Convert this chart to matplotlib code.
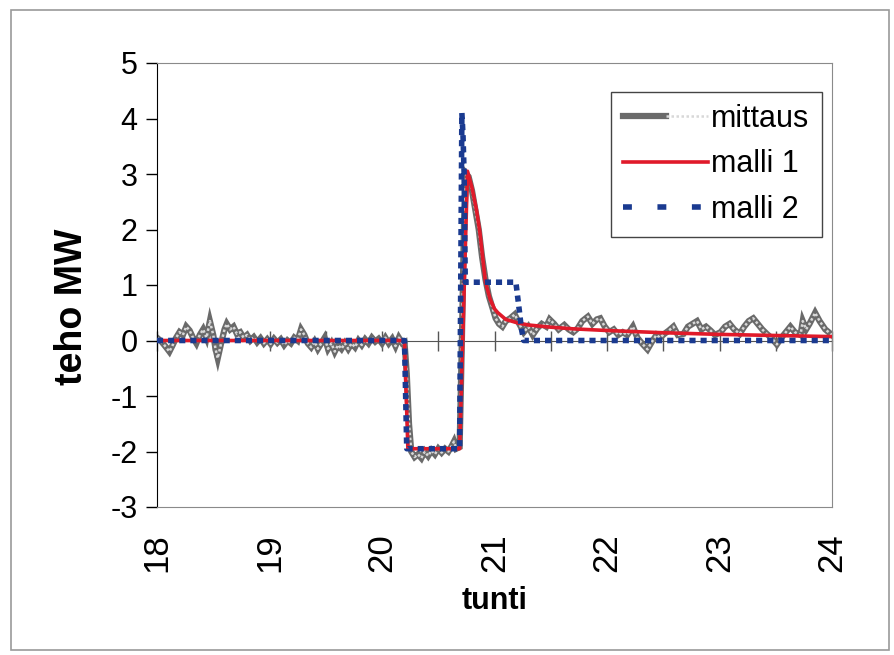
import matplotlib.pyplot as plt
from matplotlib.lines import Line2D
from matplotlib.patches import Rectangle
from matplotlib.legend_handler import HandlerTuple

plt.rcParams['font.family'] = ['Liberation Sans', 'DejaVu Sans']
plt.rcParams['axes.unicode_minus'] = False

# mitattu teho (luettu kuvasta)
t_mit = [18.00, 18.04, 18.08, 18.11, 18.14, 18.17, 18.20, 18.23, 18.26, 18.29,
         18.32, 18.35, 18.38, 18.41, 18.44, 18.47, 18.50, 18.52, 18.54, 18.57,
         18.60, 18.62, 18.65, 18.68, 18.71, 18.74, 18.77, 18.80, 18.83, 18.86,
         18.89, 18.92, 18.95, 18.98, 19.01, 19.04, 19.07, 19.10, 19.13, 19.16,
         19.19, 19.22, 19.25, 19.28, 19.31, 19.34, 19.37, 19.40, 19.43, 19.46,
         19.49, 19.52, 19.55, 19.58, 19.61, 19.64, 19.67, 19.70, 19.73, 19.76,
         19.79, 19.82, 19.85, 19.88, 19.91, 19.94, 19.97, 20.00, 20.03, 20.06,
         20.09, 20.12, 20.15, 20.18, 20.20,
         20.22, 20.24, 20.26, 20.29, 20.32, 20.35, 20.38, 20.41, 20.44, 20.47,
         20.50, 20.53, 20.56, 20.59, 20.62, 20.64, 20.66, 20.69,
         20.71, 20.73, 20.75, 20.77, 20.80, 20.83, 20.86, 20.89, 20.92, 20.95,
         20.98, 21.01, 21.04, 21.07, 21.10, 21.14, 21.18, 21.22, 21.26, 21.30,
         21.34, 21.38, 21.42, 21.46, 21.49, 21.53, 21.57, 21.62, 21.66, 21.70,
         21.74, 21.78, 21.83, 21.87, 21.91, 21.94, 21.98, 22.02, 22.06, 22.10,
         22.14, 22.18, 22.23, 22.27, 22.31, 22.36, 22.40, 22.44, 22.47, 22.51,
         22.55, 22.59, 22.63, 22.68, 22.72, 22.76, 22.80, 22.84, 22.88, 22.92,
         22.96, 23.01, 23.05, 23.09, 23.13, 23.18, 23.22, 23.26, 23.30, 23.34,
         23.38, 23.42, 23.46, 23.51, 23.55, 23.59, 23.63, 23.67, 23.72, 23.74,
         23.77, 23.80, 23.85, 23.89, 23.94, 23.97, 24.00]
p_mit = [0.05, -0.02, -0.12, -0.20, -0.08, 0.05, 0.15, 0.10, 0.25, 0.18,
         0.05, -0.05, 0.10, 0.20, 0.05, 0.35, 0.10, -0.15, -0.32, -0.05,
         0.20, 0.30, 0.20, 0.25, 0.12, 0.15, 0.05, 0.10, 0.00, 0.06,
         -0.03, 0.04, -0.05, 0.02, -0.06, 0.03, -0.04, 0.02, -0.08, 0.00,
         -0.05, 0.05, 0.00, 0.20, 0.10, -0.05, -0.12, -0.02, -0.15, -0.05,
         0.05, -0.15, -0.05, -0.20, -0.08, -0.15, -0.05, -0.15, -0.05, -0.12,
         0.00, -0.08, 0.02, -0.05, 0.05, -0.02, 0.03, -0.05, 0.05, -0.05,
         0.03, -0.10, 0.05, -0.05, -0.03,
         -0.60, -1.50, -2.00, -2.10, -2.05, -2.12, -2.00, -2.08, -1.98, -2.05,
         -1.95, -2.02, -1.95, -2.00, -1.90, -1.82, -1.95, -1.92,
         0.00, 2.20, 3.00, 2.95, 2.70, 2.35, 2.00, 1.50, 1.10, 0.80,
         0.60, 0.40, 0.30, 0.25, 0.35, 0.40, 0.47, 0.30, 0.15, 0.25,
         0.10, 0.22, 0.30, 0.25, 0.38, 0.30, 0.20, 0.28, 0.20, 0.15,
         0.22, 0.35, 0.43, 0.30, 0.38, 0.40, 0.25, 0.15, 0.20, 0.10,
         0.15, 0.10, 0.25, 0.05, -0.05, -0.16, -0.02, 0.10, 0.05, 0.12,
         0.18, 0.25, 0.10, 0.12, 0.25, 0.30, 0.35, 0.20, 0.25, 0.18,
         0.10, 0.15, 0.25, 0.30, 0.20, 0.12, 0.25, 0.35, 0.40, 0.30,
         0.20, 0.12, 0.05, -0.07, 0.05, 0.15, 0.25, 0.15, 0.10, 0.35,
         0.20, 0.30, 0.50, 0.35, 0.20, 0.15, 0.10]

# malli 1
t_m1 = [18.0, 20.20, 20.23, 20.69, 20.76, 20.80, 20.84, 20.87, 20.90, 20.92,
        20.96, 21.00, 21.03, 21.10, 21.20, 21.30, 21.50, 21.70, 22.00, 22.50,
        23.00, 23.50, 24.00]
p_m1 = [0.0, 0.0, -1.95, -1.95, 3.05, 2.75, 2.35, 1.95, 1.40, 1.05,
        0.75, 0.57, 0.50, 0.38, 0.32, 0.28, 0.24, 0.21, 0.18, 0.14,
        0.11, 0.09, 0.07]

# malli 2
t_m2 = [18.0, 20.20, 20.22, 20.69, 20.71, 20.72, 20.73, 20.74, 21.19, 21.22,
        21.24, 21.26, 24.00]
p_m2 = [0.0, 0.0, -1.95, -1.95, 4.10, 3.70, 3.00, 1.05, 1.05, 0.55,
        0.20, 0.0, 0.0]

fig = plt.figure(figsize=(8.94, 6.55), dpi=100)
ax = fig.add_axes([157 / 894, 1 - 507 / 655, 675 / 894, 444 / 655])

# kuvan reunus
fig.patches.append(Rectangle((11 / 894, 5 / 655), 878 / 894, 640 / 655,
                             transform=fig.transFigure, fill=False,
                             edgecolor='#9a9a9a', lw=1.2))

mit_dark, = ax.plot(t_mit, p_mit, color='#6a6a6a', lw=4.5, solid_joinstyle='miter', zorder=2)
mit_light, = ax.plot(t_mit, p_mit, color='#d8d8d8', lw=1.8, ls=(0, (1, 1)), zorder=2.1)
red, = ax.plot(t_m1, p_m1, color='#e01a2a', lw=2.6, zorder=3)
ax.plot(t_m2, p_m2, color='#1a3a90', lw=4, ls=(0, (1.1, 0.9)),
        dash_capstyle='butt', zorder=4)
blue_leg = Line2D([], [], color='#1a3a90', lw=4, ls=(0, (1.6, 4.6)))

ax.set_xlim(18, 24)
ax.set_ylim(-3, 5)
ax.set_yticks(range(-3, 6))
ax.set_xticks(range(18, 25))
ax.tick_params(axis='y', direction='out', length=8, width=1, labelsize=22, pad=6)
ax.tick_params(axis='x', length=0, labelsize=25, pad=19, labelrotation=90)

for s in ['top', 'right', 'bottom']:
    ax.spines[s].set_color('#8a8a8a')
ax.spines['left'].set_color('black')

# nolla-akseli tikkeineen
zax = ax.secondary_xaxis(3 / 8)
zax.set_xticks([18 + 0.5 * i for i in range(13)])
zax.tick_params(direction='inout', length=14, width=1, color='#555555', labelbottom=False)
zax.spines['bottom'].set_color('#555555')
zax.set_xticklabels([])

ax.set_ylabel('teho MW', fontsize=27, fontweight='bold')
ax.yaxis.set_label_coords(-0.1, 0.45)
ax.set_xlabel('tunti', fontsize=22, fontweight='bold', labelpad=10)

leg = ax.legend([(mit_dark, mit_light), red, blue_leg], ['mittaus', 'malli 1', 'malli 2'],
                handler_map={tuple: HandlerTuple(ndivide=None, pad=0)},
                loc='upper right', bbox_to_anchor=(0.985, 0.935), fontsize=22,
                handlelength=2.8, handletextpad=0.1, borderpad=0.4, labelspacing=0.5,
                fancybox=False, framealpha=1, edgecolor='#444444', borderaxespad=0)
leg.get_frame().set_linewidth(1)

fig.savefig('out.png', dpi=100)
